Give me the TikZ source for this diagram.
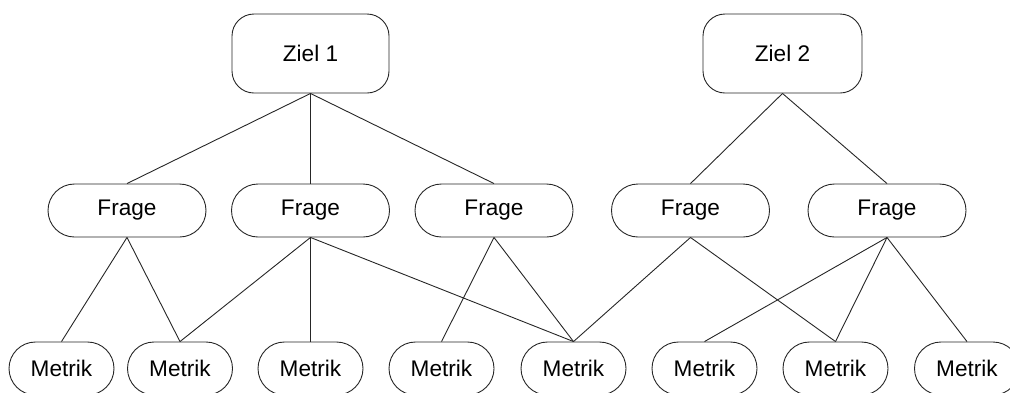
\documentclass[tikz,border=0pt]{standalone}
\usepackage{fontspec}
\setmainfont{Liberation Sans}
\begin{document}
\begin{tikzpicture}[x=1pt,y=-1pt,
  every node/.style={draw=black!85,line width=0.9pt,rectangle,inner sep=0pt,
    font=\fontsize{22.6}{26}\selectfont},
  goal/.style={minimum width=157pt,minimum height=79pt,rounded corners=22pt},
  question/.style={minimum width=158pt,minimum height=53pt,rounded corners=26.5pt},
  metric/.style={minimum width=105pt,minimum height=53pt,rounded corners=26.5pt},
  link/.style={draw=black!85,line width=0.9pt}]
\useasboundingbox (0,0) rectangle (1010,392);
\clip (0,0) rectangle (1010,392);

% goals
\node[goal] (z1) at (310.5,53.5) {Ziel 1};
\node[goal,minimum width=159pt] (z2) at (782.5,53.5) {Ziel 2};

% questions
\node[question] (f1) at (127,210.5) {Frage};
\node[question] (f2) at (310.5,210.5) {Frage};
\node[question] (f3) at (494,210.5) {Frage};
\node[question] (f4) at (690.5,210.5) {Frage};
\node[question] (f5) at (887,210.5) {Frage};

% metrics
\node[metric] (m1) at (61.5,368.5) {Metrik};
\node[metric] (m2) at (180,368.5) {Metrik};
\node[metric] (m3) at (310.5,368.5) {Metrik};
\node[metric] (m4) at (441.5,368.5) {Metrik};
\node[metric] (m5) at (573.5,368.5) {Metrik};
\node[metric] (m6) at (704.5,368.5) {Metrik};
\node[metric] (m7) at (835.5,368.5) {Metrik};
\node[metric] (m8) at (967,368.5) {Metrik};

% goal -> question
\draw[link] (z1.south) -- (f1.north);
\draw[link] (z1.south) -- (f2.north);
\draw[link] (z1.south) -- (f3.north);
\draw[link] (z2.south) -- (f4.north);
\draw[link] (z2.south) -- (f5.north);

% question -> metric
\draw[link] (f1.south) -- (m1.north);
\draw[link] (f1.south) -- (m2.north);
\draw[link] (f2.south) -- (m2.north);
\draw[link] (f2.south) -- (m3.north);
\draw[link] (f2.south) -- (m5.north);
\draw[link] (f3.south) -- (m4.north);
\draw[link] (f3.south) -- (m5.north);
\draw[link] (f4.south) -- (m5.north);
\draw[link] (f4.south) -- (m7.north);
\draw[link] (f5.south) -- (m6.north);
\draw[link] (f5.south) -- (m7.north);
\draw[link] (f5.south) -- (m8.north);
\end{tikzpicture}
\end{document}
